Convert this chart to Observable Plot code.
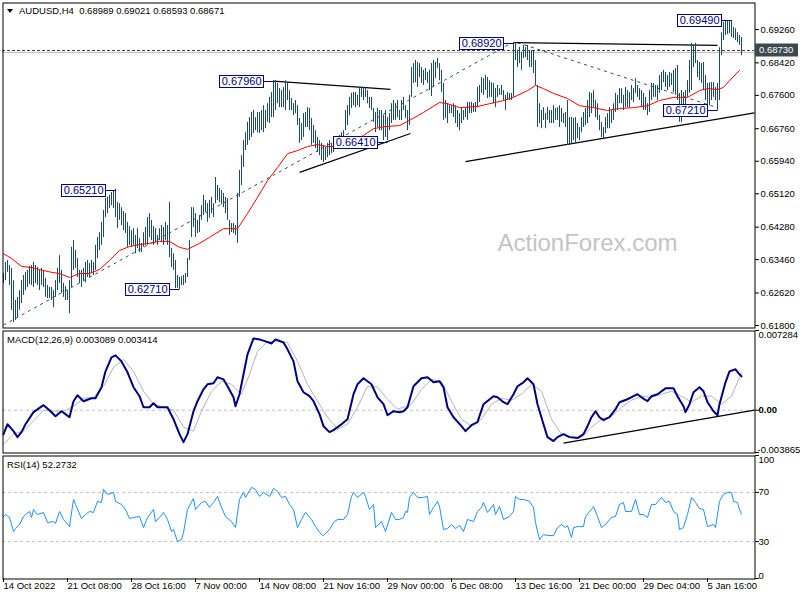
<!DOCTYPE html>
<html><head><meta charset="utf-8">
<script src="https://cdn.jsdelivr.net/npm/d3@7"></script>
<script src="https://cdn.jsdelivr.net/npm/@observablehq/plot@0.6"></script>
<style>
body{margin:0;background:#fff;}
#wrap{position:relative;width:800px;height:600px;overflow:hidden;font-family:'Liberation Sans',Arial,sans-serif;}
#wrap svg{position:absolute;left:0;}
.hdr{position:absolute;font-size:9.5px;line-height:12px;color:#000;white-space:pre;}
.tri{position:absolute;left:7px;top:9px;width:0;height:0;border-left:3.5px solid transparent;border-right:3.5px solid transparent;border-top:4px solid #000;}
</style></head><body><div id="wrap"></div>
<script>
// ---- header texts ----
const symbolHeader = "AUDUSD,H4  0.68989 0.69021 0.68593 0.68671";
const macdHeader = "MACD(12,26,9) 0.003089 0.003414";
const rsiHeader = "RSI(14) 52.2732";
const watermark = "ActionForex.com";

// ---- price bars (price x 10000), one per 4h bar ----
const high = [
6311,6339,6344,6331,6324,6293,6243,6251,6268,6293,
6306,6314,6319,6329,6331,6339,6331,6326,6319,6324,
6319,6298,6281,6276,6276,6268,6293,6324,6356,6319,
6286,6278,6268,6293,6377,6394,6369,6349,6319,6319,
6324,6339,6344,6336,6344,6339,6382,6402,6414,6440,
6470,6500,6503,6508,6515,6520,6523,6490,6487,6477,
6467,6462,6440,6429,6419,6424,6407,6424,6399,6387,
6414,6427,6452,6462,6445,6429,6424,6407,6424,6432,
6427,6440,6432,6490,6374,6361,6344,6306,6301,6303,
6306,6311,6349,6394,6477,6477,6462,6445,6457,6482,
6508,6495,6487,6495,6503,6487,6553,6533,6525,6520,
6513,6503,6500,6445,6437,6437,6432,6513,6571,6608,
6646,6666,6692,6704,6717,6722,6704,6717,6717,6722,
6734,6722,6739,6755,6767,6797,6797,6790,6777,6772,
6780,6797,6790,6772,6752,6739,6747,6734,6702,6689,
6714,6717,6729,6727,6702,6684,6671,6654,6646,6639,
6634,6629,6639,6646,6639,6641,6651,6654,6659,6666,
6671,6722,6734,6755,6765,6767,6767,6760,6780,6780,
6780,6777,6772,6755,6755,6727,6717,6727,6722,6722,
6709,6722,6704,6714,6739,6747,6739,6747,6722,6747,
6755,6734,6722,6760,6830,6840,6848,6843,6840,6830,
6823,6828,6818,6823,6840,6848,6843,6853,6840,6823,
6790,6747,6739,6734,6734,6739,6734,6722,6714,6727,
6722,6729,6742,6742,6742,6739,6742,6780,6785,6805,
6802,6810,6805,6797,6792,6790,6777,6785,6777,6785,
6772,6760,6767,6765,6765,6893,6891,6873,6881,6868,
6886,6881,6886,6873,6873,6873,6848,6785,6739,6722,
6729,6714,6729,6722,6722,6734,6727,6729,6734,6727,
6714,6717,6747,6704,6704,6702,6704,6689,6679,6704,
6717,6727,6747,6767,6765,6772,6747,6739,6709,6692,
6679,6704,6714,6729,6722,6739,6765,6760,6777,6777,
6760,6780,6772,6767,6785,6777,6802,6785,6777,6772,
6765,6755,6739,6772,6790,6790,6785,6785,6810,6818,
6823,6818,6810,6818,6815,6823,6828,6835,6765,6772,
6767,6772,6797,6848,6891,6886,6891,6848,6843,6840,
6843,6810,6790,6792,6792,6792,6780,6790,6880,6918,
6944,6949,6949,6949,6949,6931,6928,6918,6911,6906];
const low = [
6286,6293,6314,6281,6218,6188,6193,6200,6218,6235,
6256,6268,6276,6283,6281,6276,6286,6281,6268,6281,
6276,6251,6248,6248,6243,6225,6251,6268,6286,6261,
6251,6243,6243,6210,6276,6319,6324,6301,6286,6276,
6293,6288,6301,6301,6311,6306,6319,6349,6369,6382,
6402,6452,6462,6475,6482,6475,6452,6424,6445,6432,
6419,6412,6377,6382,6377,6382,6361,6374,6364,6364,
6377,6382,6382,6402,6394,6382,6389,6382,6394,6389,
6382,6394,6382,6351,6326,6319,6273,6273,6271,6281,
6281,6286,6301,6344,6402,6427,6402,6412,6414,6445,
6457,6465,6440,6450,6462,6452,6487,6495,6490,6485,
6477,6462,6445,6407,6414,6412,6407,6387,6503,6533,
6578,6621,6634,6646,6654,6664,6671,6666,6664,6671,
6666,6676,6692,6689,6704,6704,6722,6739,6729,6729,
6729,6722,6747,6722,6722,6709,6714,6684,6639,6646,
6654,6679,6679,6671,6634,6639,6626,6616,6608,6596,
6591,6596,6603,6608,6613,6616,6626,6629,6629,6626,
6626,6671,6684,6709,6727,6734,6729,6734,6729,6755,
6747,6755,6739,6727,6722,6692,6666,6679,6671,6671,
6646,6654,6646,6671,6689,6697,6697,6704,6697,6697,
6722,6702,6671,6684,6755,6790,6792,6780,6805,6790,
6785,6797,6790,6772,6757,6780,6802,6828,6797,6767,
6697,6702,6689,6714,6714,6704,6689,6679,6671,6689,
6697,6704,6697,6714,6714,6717,6717,6729,6742,6765,
6760,6772,6752,6755,6755,6739,6729,6755,6760,6760,
6747,6722,6747,6747,6747,6755,6848,6830,6840,6823,
6853,6855,6848,6830,6830,6815,6785,6679,6689,6676,
6697,6676,6697,6689,6689,6689,6697,6697,6679,6692,
6689,6679,6634,6634,6639,6646,6639,6651,6646,6666,
6679,6684,6689,6704,6714,6729,6704,6697,6671,6654,
6651,6664,6676,6676,6689,6697,6717,6722,6739,6739,
6722,6729,6729,6729,6747,6742,6765,6755,6747,6729,
6722,6722,6709,6717,6747,6755,6755,6747,6765,6772,
6792,6780,6772,6780,6785,6767,6760,6747,6692,6692,
6722,6704,6755,6765,6772,6830,6840,6805,6797,6790,
6772,6747,6722,6734,6747,6755,6747,6722,6747,6860,
6898,6911,6913,6916,6906,6903,6898,6893,6886,6860];

// ---- moving average (red), price x 10000 ----
const maBar = [0,4,9,14,18,24,28,33,38,43,48,53,58,63,68,73,78,83,88,92,98,103,110,117,122,127,132,137,142,147,152,157,162,167,173,180,185,190,198,203,210,218,222,228,237,243,250,255,262,266,270,275,282,288,295,302,308,315,322,328,335,342,348,352,357,360,363,368];
const maVal = [6361,6349,6329,6326,6321,6314,6311,6301,6311,6311,6321,6344,6369,6379,6384,6387,6392,6392,6377,6372,6387,6402,6424,6424,6462,6503,6545,6578,6613,6621,6631,6636,6631,6631,6641,6659,6676,6681,6684,6697,6717,6742,6739,6729,6732,6739,6747,6755,6772,6785,6777,6765,6752,6734,6729,6722,6727,6729,6734,6747,6755,6755,6772,6777,6775,6780,6797,6823];

// ---- main axis ticks and reference prices ----
const yTicks = [0.6926,0.6842,0.6760,0.6676,0.6594,0.6512,0.6428,0.6346,0.6262,0.6180];
const bidLine = 0.6873;
const askLine = 0.6868;

// ---- swing labels ----
const labelPrice = [0.6796,0.6641,0.6521,0.6271,0.6892,0.6949,0.6721];
const labelBar = [135,192,56,88,255,364,357];

// ---- trend lines (bar index, price) ----
const trendBar1 = [135,148,255,231,0,257];
const trendPrice1 = [0.6796,0.6566,0.6893,0.6593,0.6181,0.6893];
const trendBar2 = [193.5,203.5,357,375.5,254,357];
const trendPrice2 = [0.6775,0.6664,0.6886,0.6716,0.6892,0.6729];
const trendDashed = [false,false,false,false,true,true];

// ---- MACD ----
const macdMax = 0.007284, macdMin = -0.003865;
const macdBar = [0,2,5,7,9,11,15,20,23,26,29,31,33,35,37,40,44,46,49,51,54,56,59,62,65,68,70,73,75,77,82,85,88,90,92,95,97,100,102,105,107,110,112,115,116,118,120,122,125,128,131,134,136,140,142,145,147,150,153,155,158,160,163,165,169,172,175,177,180,184,187,190,192,195,198,200,202,205,209,212,215,218,220,222,225,229,231,234,237,240,245,247,250,252,255,257,260,262,265,267,270,272,275,277,280,283,287,290,292,294,296,298,300,303,306,308,312,315,317,319,322,324,327,331,335,337,340,341,343,345,348,350,352,355,357,358,361,363,366,368,369];
const macdVal = [-0.00219,-0.00128,-0.00191,-0.00246,-0.00200,-0.00128,-0.00018,0.00046,0,-0.00055,-0.00009,-0.00036,-0.00064,0.00082,0.00137,0.00082,0.00109,0.00109,0.00210,0.00355,0.00483,0.00501,0.00446,0.00346,0.00210,0.00128,0.00027,0.00027,0.00064,0.00027,0.00027,-0.00082,-0.00219,-0.00292,-0.00219,-0.00009,0.00082,0.00191,0.00237,0.00246,0.00301,0.00282,0.00219,0.00118,0.00036,0.00146,0.00328,0.00510,0.00656,0.00647,0.00629,0.00610,0.00647,0.00619,0.00556,0.00446,0.00264,0.00164,0.00128,0.00082,-0.00036,-0.00146,-0.00200,-0.00182,-0.00128,-0.00082,0.00146,0.00237,0.00292,0.00237,0.00118,0.00055,-0.00046,-0.00009,-0.00018,-0.00009,0.00027,0.00219,0.00292,0.00301,0.00255,0.00264,0.00210,0.00027,-0.00064,-0.00146,-0.00191,-0.00137,-0.00109,0.00055,0.00128,0.00118,0.00073,0.00055,0.00146,0.00219,0.00255,0.00292,0.00237,0.00055,-0.00128,-0.00246,-0.00282,-0.00246,-0.00219,-0.00246,-0.00255,-0.00219,-0.00146,-0.00064,-0.00009,-0.00064,-0.00091,-0.00064,0.00009,0.00073,0.00100,0.00128,0.00146,0.00118,0.00082,0.00128,0.00146,0.00200,0.00200,0.00128,0.00036,-0.00018,0.00055,0.00164,0.00210,0.00173,0.00073,-0.00009,-0.00046,0.00055,0.00255,0.00355,0.00374,0.00328,0.00309];
const sigBar = [0,5,10,15,20,25,30,35,40,45,50,55,60,65,70,75,80,85,90,95,99,104,109,114,119,123,127,132,137,142,147,152,157,162,167,172,177,182,187,192,197,204,209,214,219,224,229,234,239,244,249,254,259,264,269,274,279,284,289,294,299,304,309,314,319,324,329,334,339,344,349,354,359,364,369];
const sigVal = [-0.00310,-0.00219,-0.00191,-0.00100,0,-0.00009,-0.00009,0.00036,0.00109,0.00118,0.00219,0.00392,0.00465,0.00355,0.00173,0.00055,0.00027,0,-0.00155,-0.00191,-0.00009,0.00173,0.00264,0.00237,0.00146,0.00328,0.00537,0.00629,0.00629,0.00619,0.00446,0.00237,0.00082,-0.00064,-0.00173,-0.00128,0.00027,0.00219,0.00210,0.00100,0.00009,0.00055,0.00191,0.00282,0.00264,0.00082,-0.00082,-0.00146,-0.00082,0.00055,0.00109,0.00091,0.00146,0.00237,0.00173,-0.00082,-0.00219,-0.00246,-0.00246,-0.00155,-0.00082,-0.00055,0.00027,0.00091,0.00128,0.00118,0.00146,0.00173,0.00128,0.00073,0.00128,0.00128,0.00055,0.00128,0.00341];
const macdTrendBar = [280,375.5];
const macdTrendVal = [-0.00301,0];

// ---- RSI ----
const rsiLevels = [70,30];
const rsiTicks = [100,70,30,0];
const rsiBar = [0,1,3,5,6,8,10,11,13,14,15,17,20,22,25,26,28,30,33,35,36,39,41,43,45,47,49,50,52,55,56,59,61,63,65,68,70,72,75,76,78,80,82,84,85,87,89,90,92,95,96,99,101,103,105,107,109,111,114,116,118,120,121,124,126,128,130,133,135,137,139,141,143,145,147,149,151,154,156,159,160,163,165,167,170,172,174,175,177,180,181,183,185,186,189,191,194,196,198,
200,201,202,203,205,207,210,212,213,215,217,218,220,222,224,226,228,230,232,235,237,239,240,242,245,246,248,250,253,255,256,258,260,263,265,266,268,270,272,275,277,279,281,282,284,285,287,290,291,294,295,297,299,301,304,306,308,310,311,314,316,318,320,322,324,326,329,331,333,335,337,338,340,342,344,346,348,350,352,355,356,358,360,362,364,365,367,368,369];
const rsiVal = [50.4,52,49.6,38.2,40.6,43.9,50.4,52,54.5,49.6,56.1,52,53.7,45.5,46.3,44.7,54.5,48,42.2,64.3,60.2,48.8,52,54.5,53.7,62.7,61.8,72.4,68.4,70,62.7,60.2,56.1,48.8,49.6,50.4,41.4,49.6,56.1,46.3,49.6,53.7,48,38.2,39.8,30,31.6,37.3,56.1,65.1,56.1,61.8,62.7,57.8,61.8,66.7,57.8,50.4,46.3,41.4,64.3,70,65.9,74.1,72.4,66.7,70,66.7,73.3,70.8,65.9,66.7,60.2,56.1,41.4,48,53.7,48,42.2,35.7,34.9,39.8,45.5,48,48,52,66.7,70,65.9,70,66.7,56.1,60.2,41.4,46.3,38.2,53.7,48,48,
49.6,54.5,53.7,65.9,70,65.9,65.9,66.7,52,57.8,62.7,58.6,39.8,40.6,43.9,40.6,43.1,38.2,48,46.3,54.5,57.8,61.8,53.7,60.2,52,58.6,48,50.4,54.5,66.7,64.3,64.3,62.7,57.8,45.5,31.6,35.7,34.9,34.9,41.4,43.9,41.4,43.1,33.3,41.4,42.2,42.2,50.4,56.1,58.6,50.4,41.4,43.9,49.6,50.4,60.2,61.8,54.5,54.5,64.3,52,52,49.6,60.2,60.2,65.9,61.8,62.7,54.5,52,39.8,41.4,52,65.9,61.8,56.9,56.1,42.2,43.9,41.4,62.7,68.4,70,70,62.7,61.8,56.1,52.3];

// ---- time axis ----
const xTickBars = [0,32,64,96,128,160,192,224,256,288,320,352];
const xTickLabels = ["14 Oct 2022","21 Oct 08:00","28 Oct 16:00","7 Nov 00:00","14 Nov 08:00","21 Nov 16:00","29 Nov 00:00","6 Dec 08:00","13 Dec 16:00","21 Dec 00:00","29 Dec 04:00","5 Jan 16:00"];

// ================= drawing =================
const ns = "http://www.w3.org/2000/svg";
const wrap = document.getElementById("wrap");
const XD = [-0.5, 375.5];
const font = "'Liberation Sans', Arial, sans-serif";
const style = {fontFamily: font, fontSize: "9.5px", background: "transparent", overflow: "visible", color: "#000"};
const base = {width: 800, marginLeft: 2, marginRight: 46, style};

const bars = high.map((h, i) => ({i, h: h / 1e4, l: low[i] / 1e4}));
const ma = maBar.map((b, k) => ({i: b, v: maVal[k] / 1e4}));
const trends = trendBar1.map((b, k) => ({x1: b, y1: trendPrice1[k], x2: trendBar2[k], y2: trendPrice2[k], dashed: trendDashed[k]}));
const labels = labelPrice.map((p, k) => ({p, bar: labelBar[k], s: p.toFixed(5)}));

function place(svg, top) {
  svg.style.position = "absolute";
  svg.style.top = top + "px";
  svg.style.left = "0px";
  wrap.appendChild(svg);
}
function addHdr(text, left, top) {
  const d = document.createElement("div");
  d.className = "hdr"; d.textContent = text;
  d.style.left = left + "px"; d.style.top = top + "px";
  wrap.appendChild(d);
}

const main = Plot.plot({
  ...base, height: 329, marginTop: 2, marginBottom: 2,
  x: {domain: XD, axis: null},
  y: {domain: [0.617496, 0.69941]},
  marks: [
    Plot.text([watermark], {frameAnchor: "top-left", dx: 585, dy: 241, fontSize: 24, fill: "#c4c4c4", textAnchor: "middle", lineAnchor: "middle"}),
    Plot.ruleY([askLine], {stroke: "#c0c0c0"}),
    Plot.ruleY([bidLine], {stroke: "#3a3a3a", strokeDasharray: "3,2"}),
    Plot.link(trends.filter(d => d.dashed), {x1: "x1", y1: "y1", x2: "x2", y2: "y2", stroke: "#2f4f4f", strokeDasharray: "3,4", strokeWidth: 1}),
    Plot.link(trends.filter(d => !d.dashed), {x1: "x1", y1: "y1", x2: "x2", y2: "y2", stroke: "#000", strokeWidth: 1.2}),
    Plot.ruleX(bars, {x: "i", y1: "l", y2: "h", stroke: "#1b4c5f", strokeWidth: 1}),
    Plot.line(ma, {x: "i", y: "v", stroke: "#ff0000", strokeWidth: 1}),
    Plot.text(labels, {x: "bar", y: "p", text: "s", textAnchor: "end", dx: -12, fill: "#000080", fontSize: 11}),
    Plot.frame({stroke: "#000", dx: 0.5, dy: 0.5}),
    Plot.axisY({anchor: "right", ticks: yTicks, tickFormat: d => d.toFixed(5), tickSize: 4, tickPadding: 2, label: null})
  ]
});
place(main, 0);

// label boxes and connectors
(function () {
  const sr = main.getBoundingClientRect();
  const xs = main.scale("x"), ys = main.scale("y");
  const texts = Array.from(main.querySelectorAll("text"));
  labels.forEach(d => {
    const t = texts.find(el => el.textContent === d.s);
    if (!t) return;
    const r = t.getBoundingClientRect();
    const py = Math.round(ys.apply(d.p)) + 0.5;
    const bx = Math.round(xs.apply(d.bar)) + 0.5;
    const left = Math.floor(r.left - sr.left) - 1.5;
    const right = Math.ceil(r.right - sr.left) + 1.5;
    const parent = t.parentNode;
    const rect = document.createElementNS(ns, "rect");
    rect.setAttribute("x", left); rect.setAttribute("y", py - 6);
    rect.setAttribute("width", right - left); rect.setAttribute("height", 12);
    rect.setAttribute("fill", "#fff"); rect.setAttribute("stroke", "#000080");
    const ln = document.createElementNS(ns, "line");
    ln.setAttribute("x1", right); ln.setAttribute("x2", bx);
    ln.setAttribute("y1", py); ln.setAttribute("y2", py);
    ln.setAttribute("stroke", "#000080");
    const holder = document.createElementNS(ns, "g");
    holder.appendChild(rect); holder.appendChild(ln);
    const grp = parent.tagName.toLowerCase() === "g" ? parent : t;
    grp.parentNode.insertBefore(holder, grp);
  });
  // current price box on the right scale
  const py = ys.apply(bidLine);
  const r2 = document.createElementNS(ns, "rect");
  r2.setAttribute("x", 755); r2.setAttribute("y", Math.round(py) - 6.5);
  r2.setAttribute("width", 43); r2.setAttribute("height", 13);
  r2.setAttribute("fill", "#3c4a50");
  main.appendChild(r2);
  const tx = document.createElementNS(ns, "text");
  tx.setAttribute("x", 759); tx.setAttribute("y", py);
  tx.setAttribute("dy", "0.34em"); tx.setAttribute("fill", "#fff");
  tx.setAttribute("text-anchor", "start");
  tx.setAttribute("font-size", "9.5px");
  tx.textContent = bidLine.toFixed(5);
  main.appendChild(tx);
})();

const macdData = macdBar.map((b, k) => ({i: b, v: macdVal[k]}));
const sigData = sigBar.map((b, k) => ({i: b, v: sigVal[k]}));
const macdTrend = [{x1: macdTrendBar[0], y1: macdTrendVal[0], x2: macdTrendBar[1], y2: macdTrendVal[1]}];
const macdP = Plot.plot({
  ...base, height: 124, marginTop: 1, marginBottom: 1,
  x: {domain: XD, axis: null},
  y: {domain: [macdMin, macdMax]},
  marks: [
    Plot.ruleY([0], {stroke: "#c0c0c0", strokeDasharray: "3,3"}),
    Plot.link(macdTrend, {x1: "x1", y1: "y1", x2: "x2", y2: "y2", stroke: "#000", strokeWidth: 1.2}),
    Plot.line(sigData, {x: "i", y: "v", stroke: "#b4b4b4", strokeWidth: 1}),
    Plot.line(macdData, {x: "i", y: "v", stroke: "#000080", strokeWidth: 2}),
    Plot.frame({stroke: "#000", dx: 0.5, dy: 0.5}),
    Plot.axisY({anchor: "right", ticks: [macdMax, 0, macdMin], tickFormat: () => "", tickSize: 4, label: null}),
    Plot.text([macdMax], {y: d => d, text: d => d.toFixed(6), frameAnchor: "right", dx: 4, dy: 1, textAnchor: "start", lineAnchor: "top"}),
    Plot.text([0], {y: d => d, text: () => "0.00", frameAnchor: "right", dx: 4, textAnchor: "start", lineAnchor: "middle", fontWeight: "bold"}),
    Plot.text([macdMin], {y: d => d, text: d => d.toFixed(6), frameAnchor: "right", dx: 3, textAnchor: "start", lineAnchor: "bottom"})
  ]
});
place(macdP, 329);

const rsiData = rsiBar.map((b, k) => ({i: b, v: rsiVal[k]}));
const rsiP = Plot.plot({
  ...base, height: 146, marginTop: 2, marginBottom: 21,
  x: {domain: XD},
  y: {domain: [0, 100]},
  marks: [
    Plot.ruleY(rsiLevels, {stroke: "#c0c0c0", strokeDasharray: "3,3"}),
    Plot.line(rsiData, {x: "i", y: "v", stroke: "#1e90ff", strokeWidth: 1}),
    Plot.frame({stroke: "#000", dx: 0.5, dy: 0.5}),
    Plot.axisY({anchor: "right", ticks: rsiTicks, tickFormat: () => "", tickSize: 4, label: null}),
    Plot.text([rsiTicks[0]], {y: d => d, text: d => String(d), frameAnchor: "right", dx: 4, dy: 1, textAnchor: "start", lineAnchor: "top"}),
    Plot.text(rsiLevels, {y: d => d, text: d => String(d), frameAnchor: "right", dx: 4, textAnchor: "start", lineAnchor: "middle"}),
    Plot.text([rsiTicks[3]], {y: d => d, text: d => String(d), frameAnchor: "right", dx: 4, textAnchor: "start", lineAnchor: "bottom"}),
    Plot.axisX({anchor: "bottom", ticks: xTickBars, tickFormat: d => xTickLabels[xTickBars.indexOf(d)], tickSize: 4, tickPadding: 0, textAnchor: "start", label: null})
  ]
});
place(rsiP, 453);

// panel headers
const tri = document.createElement("div"); tri.className = "tri"; wrap.appendChild(tri);
addHdr(symbolHeader, 19, 5);
addHdr(macdHeader, 7, 334);
addHdr(rsiHeader, 7, 459);
</script></body></html>
